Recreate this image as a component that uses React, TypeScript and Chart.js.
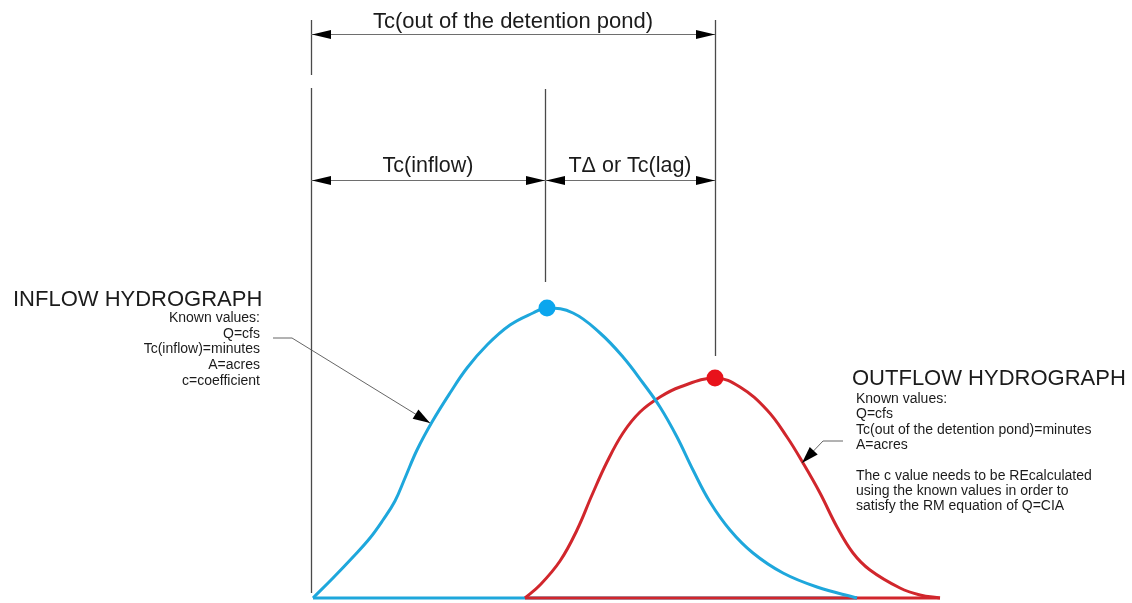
import React, { useEffect, useRef } from "react";
import { Chart, registerables } from "chart.js";

Chart.register(...registerables);

// ---- data (time in arbitrary minutes, flow in arbitrary cfs) ----
const inflowTime = [0, 2.0, 4.0, 5.7, 7.0, 8.2, 9.2, 10.4, 11.9, 13.7, 15.4, 17.4, 19.7, 22.0, 23.4, 26.0, 28.7, 31.0, 33.0, 34.7, 36.4, 38.0, 39.7, 41.7, 44.0, 47.0, 50.4, 54.4];
const inflowFlow = [0, 2.0, 4.1, 6.0, 7.8, 9.7, 12.0, 14.8, 17.6, 20.5, 23.0, 25.3, 27.3, 28.5, 29.0, 28.5, 26.5, 24.1, 21.5, 19.1, 16.1, 12.8, 9.6, 6.8, 4.5, 2.5, 1.1, 0];

const outflowTime = [21.2, 22.7, 24.7, 26.4, 27.9, 29.4, 31.0, 32.7, 34.7, 36.7, 40.2, 42.7, 45.4, 47.4, 49.0, 50.7, 52.4, 54.0, 55.7, 58.7, 60.7, 62.7];
const outflowFlow = [0, 1.3, 3.7, 6.8, 10.3, 13.6, 16.5, 18.6, 20.1, 21.1, 22.0, 21.1, 18.8, 16.1, 13.5, 10.5, 7.1, 4.5, 2.8, 1.0, 0.3, 0];

const topLabel = "Tc(out of the detention pond)";
const inflowSpanLabel = "Tc(inflow)";
const lagSpanLabel = "T\u0394 or Tc(lag)";
const inflowTitle = "INFLOW HYDROGRAPH";
const inflowNotes = ["Known values:", "Q=cfs", "Tc(inflow)=minutes", "A=acres", "c=coefficient"];
const outflowTitle = "OUTFLOW HYDROGRAPH";
const outflowNotes = [
  "Known values:",
  "Q=cfs",
  "Tc(out of the detention pond)=minutes",
  "A=acres",
  "",
  "The c value needs to be REcalculated",
  "using the known values in order to",
  "satisfy the RM equation of Q=CIA",
];

const BLUE = "#1ea7dc";
const RED = "#d1262c";
const BLUE_DOT = "#0ba6ee";
const RED_DOT = "#e8121b";
const FONT = '"Liberation Sans", Arial, Helvetica, sans-serif';

function peakOf(ts: number[], qs: number[]) {
  let i = 0;
  qs.forEach((q, k) => {
    if (q > qs[i]) i = k;
  });
  return { x: ts[i], y: qs[i] };
}

function arrowHead(ctx: CanvasRenderingContext2D, tx: number, ty: number, fx: number, fy: number, len: number, half: number) {
  const a = Math.atan2(ty - fy, tx - fx);
  const c = Math.cos(a), s = Math.sin(a);
  const bx = tx - len * c, by = ty - len * s;
  ctx.beginPath();
  ctx.moveTo(tx, ty);
  ctx.lineTo(bx - half * s, by + half * c);
  ctx.lineTo(bx + half * s, by - half * c);
  ctx.closePath();
  ctx.fill();
}

const diagramPlugin = {
  id: "diagram",
  beforeDatasetsDraw(chart: any) {
    const ctx: CanvasRenderingContext2D = chart.ctx;
    const xs = chart.scales.x, ys = chart.scales.y;
    const X = (v: number) => xs.getPixelForValue(v);
    const Y = (v: number) => ys.getPixelForValue(v);
    const inPeak = peakOf(inflowTime, inflowFlow);
    const outPeak = peakOf(outflowTime, outflowFlow);
    const gL = X(inflowTime[0] - 0.2);
    const gM = X(inPeak.x - 0.2);
    const gR = X(outPeak.x);

    ctx.save();
    // guide lines
    ctx.strokeStyle = "#4a4a4a";
    ctx.lineWidth = 1.3;
    const seg = (x: number, q1: number, q2: number) => {
      ctx.beginPath();
      ctx.moveTo(Math.round(x) + 0.5, Y(q1));
      ctx.lineTo(Math.round(x) + 0.5, Y(q2));
      ctx.stroke();
    };
    seg(gL, 57.8, 52.3);
    seg(gL, 51.0, 0.5);
    seg(gM, 50.9, 31.6);
    seg(gR, 57.8, 24.2);

    // dimension lines
    ctx.strokeStyle = "#6e6e6e";
    ctx.lineWidth = 1;
    ctx.fillStyle = "#000";
    const dim = (x1: number, x2: number, q: number) => {
      const y = Math.round(Y(q)) + 0.5;
      ctx.beginPath();
      ctx.moveTo(x1, y);
      ctx.lineTo(x2, y);
      ctx.stroke();
      arrowHead(ctx, x1 + 1, y, x2, y, 19, 4.5);
      arrowHead(ctx, x2, y, x1, y, 19, 4.5);
    };
    dim(gL, gR, 56.4);
    dim(gL, gM, 41.8);
    dim(gM, gR, 41.8);

    // dimension texts
    ctx.fillStyle = "#1b1b1b";
    ctx.textAlign = "center";
    ctx.textBaseline = "alphabetic";
    ctx.font = `22px ${FONT}`;
    ctx.fillText(topLabel, (gL + gR) / 2, Y(56.4) - 6);
    ctx.font = `21.5px ${FONT}`;
    ctx.fillText(inflowSpanLabel, (gL + gM) / 2, Y(41.8) - 8);
    ctx.fillText(lagSpanLabel, (gM + gR) / 2, Y(41.8) - 8);
    ctx.restore();
  },
  afterDatasetsDraw(chart: any) {
    const ctx: CanvasRenderingContext2D = chart.ctx;
    const xs = chart.scales.x, ys = chart.scales.y;
    const X = (v: number) => xs.getPixelForValue(v);
    const Y = (v: number) => ys.getPixelForValue(v);
    ctx.save();

    // leader lines
    ctx.strokeStyle = "#555";
    ctx.fillStyle = "#000";
    ctx.lineWidth = 0.9;
    const leader = (pts: [number, number][]) => {
      const p = pts.map(([t, q]) => [X(t), Y(q)]);
      ctx.beginPath();
      ctx.moveTo(p[0][0], p[0][1]);
      for (let i = 1; i < p.length; i++) ctx.lineTo(p[i][0], p[i][1]);
      ctx.stroke();
      const n = p.length;
      arrowHead(ctx, p[n - 1][0], p[n - 1][1], p[n - 2][0], p[n - 2][1], 17, 5.5);
    };
    leader([[-4.0, 26.0], [-2.1, 26.0], [11.7, 17.5]]);
    leader([[53.0, 15.7], [51.0, 15.7], [48.9, 13.5]]);

    // texts
    ctx.fillStyle = "#1b1b1b";
    ctx.textBaseline = "alphabetic";
    ctx.textAlign = "left";
    ctx.font = `22px ${FONT}`;
    ctx.fillText(inflowTitle, X(-30.0), Y(29.2));
    ctx.fillText(outflowTitle, X(53.9), Y(21.3));

    ctx.font = `14px ${FONT}`;
    ctx.textAlign = "right";
    inflowNotes.forEach((s, i) => ctx.fillText(s, X(-5.3), Y(27.6) + i * 15.7));
    ctx.textAlign = "left";
    outflowNotes.forEach((s, i) => ctx.fillText(s, X(54.3), Y(19.5) + i * 15.3));
    ctx.restore();
  },
};

export default function App() {
  const ref = useRef<HTMLCanvasElement | null>(null);
  useEffect(() => {
    document.body.style.margin = "0";
    const inPeak = peakOf(inflowTime, inflowFlow);
    const outPeak = peakOf(outflowTime, outflowFlow);
    const zip = (t: number[], q: number[]) => t.map((x, i) => ({ x, y: q[i] }));
    const chart = new Chart(ref.current!, {
      type: "line",
      data: {
        datasets: [
          {
            label: "Inflow peak",
            data: [inPeak],
            backgroundColor: BLUE_DOT,
            borderColor: BLUE_DOT,
            pointRadius: 8.5,
            pointBorderWidth: 0,
            showLine: false,
            order: 0,
          },
          {
            label: "Outflow peak",
            data: [outPeak],
            backgroundColor: RED_DOT,
            borderColor: RED_DOT,
            pointRadius: 8.5,
            pointBorderWidth: 0,
            showLine: false,
            order: 0,
          },
          {
            label: "Inflow hydrograph",
            data: zip(inflowTime, inflowFlow),
            borderColor: BLUE,
            borderWidth: 3,
            pointRadius: 0,
            tension: 0.4,
            fill: false,
            order: 1,
          },
          {
            label: "Outflow hydrograph",
            data: zip(outflowTime, outflowFlow),
            borderColor: RED,
            borderWidth: 3,
            pointRadius: 0,
            tension: 0.4,
            fill: false,
            order: 2,
          },
          {
            label: "Outflow base",
            data: [
              { x: outflowTime[0], y: 0 },
              { x: outflowTime[outflowTime.length - 1], y: 0 },
            ],
            borderColor: RED,
            borderWidth: 3,
            pointRadius: 0,
            fill: false,
            order: 3,
          },
          {
            label: "Inflow base",
            data: [
              { x: inflowTime[0], y: 0 },
              { x: inflowTime[inflowTime.length - 1], y: 0 },
            ],
            borderColor: BLUE,
            borderWidth: 3,
            pointRadius: 0,
            fill: false,
            order: 4,
          },
        ],
      },
      options: {
        animation: false,
        responsive: false,
        maintainAspectRatio: false,
        layout: { padding: 0, autoPadding: false },
        plugins: { legend: { display: false }, tooltip: { enabled: false } },
        scales: {
          x: { type: "linear", min: -31.3, max: 81.9, display: false },
          y: { type: "linear", min: -0.5, max: 59.8, display: false },
        },
      },
      plugins: [diagramPlugin],
    } as any);
    return () => chart.destroy();
  }, []);
  return (
    <div style={{ width: 1132, height: 603, background: "#fff" }}>
      <canvas ref={ref} width={1132} height={603} style={{ display: "block" }} />
    </div>
  );
}
